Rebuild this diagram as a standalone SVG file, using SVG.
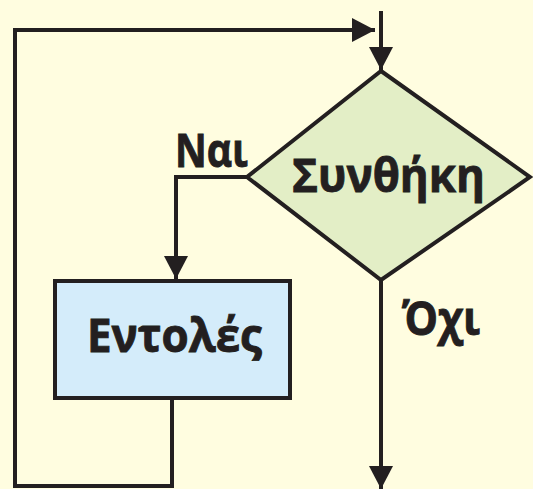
<svg xmlns="http://www.w3.org/2000/svg" width="533" height="489" viewBox="0 0 533 489">
<defs>
<style>
.ln{fill:none;stroke:#231F20;stroke-width:4;stroke-linejoin:miter}
.sh{stroke:#231F20;stroke-width:4;stroke-linejoin:miter}
.t{font-family:"Open Sans","Noto Sans","DejaVu Sans",sans-serif;font-weight:bold;fill:#231F20;font-size:47px;stroke:#231F20;stroke-width:0.9px}
</style>
<marker id="ah" markerUnits="userSpaceOnUse" markerWidth="24" markerHeight="24" refX="23" refY="12" orient="auto" viewBox="0 0 24 24">
<path d="M0,0 L23,12 L0,24 Z" fill="#231F20"/>
</marker>
</defs>
<rect width="533" height="489" fill="#FFFDE0"/>
<g id="connectors">
<path class="ln" d="M381,11 V70" marker-end="url(#ah)"/>
<path class="ln" d="M247,177 H176 V279" marker-end="url(#ah)"/>
<path class="ln" d="M381,280 V489" marker-end="url(#ah)"/>
<path class="ln" d="M172,398 V486 H15 V30 H375" marker-end="url(#ah)"/>
</g>
<g id="condition">
<polygon class="sh" points="381,71 530,177 381,280 247,177" fill="#E3EEC6"/>
<text class="t" x="292" y="192" textLength="193" lengthAdjust="spacingAndGlyphs">Συνθήκη</text>
</g>
<g id="commands">
<rect class="sh" x="55" y="281" width="235" height="117" fill="#D4ECFA"/>
<text class="t" x="87" y="352" textLength="175" lengthAdjust="spacingAndGlyphs">Εντολές</text>
</g>
<g id="label-yes">
<text class="t" x="175" y="167" textLength="73" lengthAdjust="spacingAndGlyphs">Ναι</text>
</g>
<g id="label-no">
<text class="t" x="402" y="335" textLength="78" lengthAdjust="spacingAndGlyphs">Όχι</text>
</g>
</svg>
